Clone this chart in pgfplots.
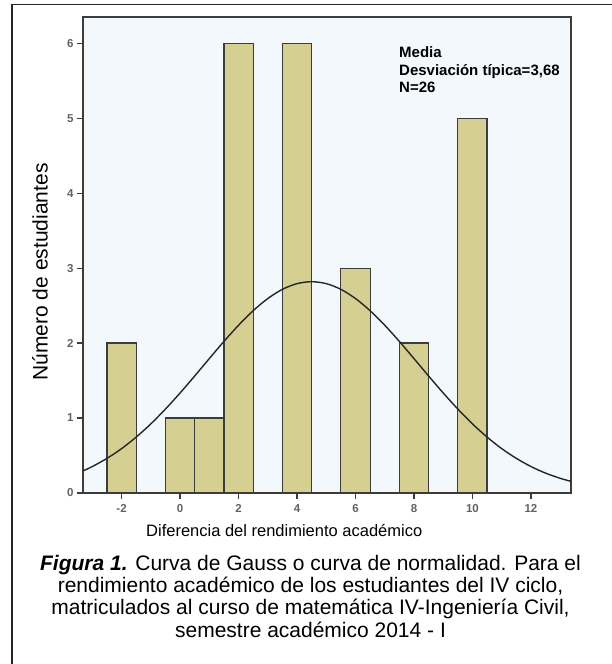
\documentclass[border=0pt]{standalone}
\usepackage{pgfplots}
\pgfplotsset{compat=1.18}
\usepackage{fontspec}
\setmainfont{Liberation Sans}
\definecolor{barfill}{RGB}{213,207,146}
\definecolor{plotbg}{RGB}{243,248,253}
\definecolor{edge}{RGB}{60,60,60}
\begin{document}
\begin{tikzpicture}
\useasboundingbox (0pt,0pt) rectangle (611pt,664pt);
\draw[line width=1.5pt, black!85] (12pt,-5pt) -- (12pt,659.5pt) -- (620pt,659.5pt);
\begin{axis}[at={(83pt,171pt)}, anchor=south west, scale only axis,
  width=488pt, height=476pt,
  xmin=-3.32, xmax=13.37, ymin=0, ymax=6.35,
  axis background/.style={fill=plotbg},
  axis line style={edge, line width=1.3pt},
  xtick={-2,0,2,4,6,8,10,12}, ytick={0,1,2,3,4,5,6},
  tick align=outside, tick pos=left, major tick length=6pt,
  tick style={edge, line width=1.2pt},
  ticklabel style={font=\fontsize{11.5}{12}\selectfont\bfseries, text=black!62},
  xticklabel style={yshift=-2pt},
  /pgf/number format/assume math mode=true]
\addplot[ybar, bar width=1, bar shift=0pt, fill=barfill, draw=edge, line width=1.2pt]
  coordinates {(-2,2) (0,1) (1,1) (2,6) (4,6) (6,3) (8,2) (10,5)};
\addplot[smooth, black!85, line width=1.4pt] coordinates {
(-3.32,0.295) (-3,0.353) (-2.5,0.462) (-2,0.592) (-1.5,0.746) (-1,0.922) (-0.5,1.120)
(0,1.334) (0.5,1.561) (1,1.793) (1.5,2.022) (2,2.238) (2.5,2.432) (3,2.594) (3.5,2.717)
(4,2.793) (4.5,2.819) (5,2.793) (5.5,2.717) (6,2.594) (6.5,2.432) (7,2.238) (7.5,2.022)
(8,1.793) (8.5,1.561) (9,1.334) (9.5,1.120) (10,0.922) (10.5,0.746) (11,0.592)
(11.5,0.462) (12,0.353) (12.5,0.265) (13,0.196) (13.37,0.155)};
\end{axis}
\node[anchor=north west, align=left, font=\fontsize{15}{17.5}\selectfont\bfseries, inner sep=0pt] at (399pt,617.5pt) {Media\\Desviación típica=3,68\\N=26};
\node[rotate=90, font=\fontsize{21}{24}\selectfont, inner sep=0pt] at (40pt,392pt) {Número de estudiantes};
\node[anchor=base west, font=\fontsize{16.5}{20}\selectfont, inner sep=0pt] at (146pt,127pt) {Diferencia del rendimiento académico};
\node[anchor=base, font=\fontsize{21}{24}\selectfont] at (310.5pt,93.3pt) {\textbf{\textit{Figura 1.}} Curva de Gauss o curva de normalidad. Para el};
\node[anchor=base, font=\fontsize{21}{24}\selectfont] at (310.5pt,71pt) {rendimiento académico de los estudiantes del IV ciclo,};
\node[anchor=base, font=\fontsize{21}{24}\selectfont] at (310.5pt,49pt) {matriculados al curso de matemática IV-Ingeniería Civil,};
\node[anchor=base, font=\fontsize{21}{24}\selectfont] at (310.5pt,27pt) {semestre académico 2014 - I};
\end{tikzpicture}
\end{document}
